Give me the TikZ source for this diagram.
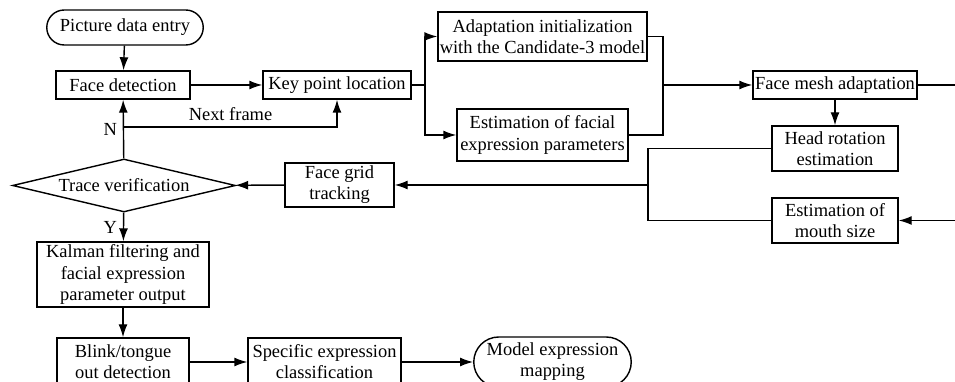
\documentclass[tikz,border=0pt]{standalone}
\usepackage{fontspec}
\setmainfont{Liberation Serif}
\usetikzlibrary{arrows.meta,shapes.geometric,shapes.misc}

\begin{document}
\begin{tikzpicture}
            [x=0.2mm, y=-0.2mm,
            every node/.style={font=\fontsize{10.5}{12}\selectfont},
            box/.style={rectangle, draw, line width=0.8pt, align=center, inner sep=1pt},
            terminal/.style={rounded rectangle, draw, line width=0.8pt, align=center, inner sep=1pt},
            decision/.style={diamond, aspect=4.2, draw, line width=0.8pt, inner sep=0pt},
            line/.style={line width=0.8pt, black},
            arrow/.style={line width=0.8pt, black, -{Latex[length=2.6mm, width=1.8mm]}}]

            \useasboundingbox (0,0) rectangle (955,382);
            \clip (0,0) rectangle (955,382);

            \node[terminal, minimum width=32mm, minimum height=7mm] (entry) at (125,27.5) {Picture data entry};
            \node[box, minimum width=26.8mm, minimum height=5.6mm] (facedet) at (123,85) {Face detection};
            \node[box, minimum width=29.6mm, minimum height=5.6mm] (keypoint) at (337,85) {Key point location};
            \node[box, minimum width=41mm, minimum height=9.8mm] (adapt) at (542.5,36.5) {Adaptation initialization\\with the Candidate-3 model};
            \node[box, minimum width=34.2mm, minimum height=10.4mm] (estfacial) at (542.5,135) {Estimation of facial\\expression parameters};
            \node[box, minimum width=32.8mm, minimum height=5.6mm] (facemesh) at (835,85) {Face mesh adaptation};
            \node[box, minimum width=25.2mm, minimum height=9mm] (headrot) at (835,148.5) {Head rotation\\estimation};
            \node[box, minimum width=25.2mm, minimum height=9mm] (mouth) at (835,220.5) {Estimation of\\mouth size};
            \node[box, minimum width=21.8mm, minimum height=8.8mm] (facegrid) at (339.5,185) {Face grid\\tracking};
            \node[decision, minimum width=44.6mm, minimum height=10.6mm] (trace) at (124,185.5) {Trace verification};
            \node[box, minimum width=34.4mm, minimum height=13mm] (kalman) at (123,274.5) {Kalman filtering and\\facial expression\\parameter output};
            \node[box, minimum width=26.4mm, minimum height=9.6mm] (blink) at (123,362) {Blink/tongue\\out detection};
            \node[box, minimum width=30.6mm, minimum height=9.6mm] (specific) at (324.5,362) {Specific expression\\classification};
            \node[terminal, minimum width=32.2mm, minimum height=10mm] (model) at (552.5,362) {Model expression\\mapping};

            \coordinate (split) at (425,85);
            \coordinate (merge) at (663,85);
            \coordinate (join) at (648,185);
            \coordinate (nextf) at (124,127);
            \coordinate (loopx) at (975,85);

            \draw[arrow] (entry) -- (facedet);
            \draw[arrow] (facedet) -- (keypoint);
            \draw[line] (keypoint.east) -- (split);
            \draw[arrow] (split) |- (adapt.west);
            \draw[arrow] (split) |- (estfacial.west);
            \draw[line] (adapt.east) -| (merge);
            \draw[line] (estfacial.east) -| (merge);
            \draw[arrow] (merge) -- (facemesh);
            \draw[arrow] (facemesh.east) -- (loopx) |- (mouth.east);
            \draw[arrow] (facemesh) -- (headrot);
            \draw[line] (headrot.west) -| (join);
            \draw[line] (mouth.west) -| (join);
            \draw[arrow] (join) -- (facegrid);
            \draw[arrow] (facegrid) -- (trace);
            \draw[arrow] (trace) -- node[midway, left] {N} (facedet);
            \draw[arrow] (nextf) -| node[pos=0.25, above] {Next frame} (keypoint.south);
            \draw[arrow] (trace) -- node[midway, left] {Y} (kalman);
            \draw[arrow] (kalman) -- (blink);
            \draw[arrow] (blink) -- (specific);
            \draw[arrow] (specific) -- (model);

        \end{tikzpicture}
\end{document}
